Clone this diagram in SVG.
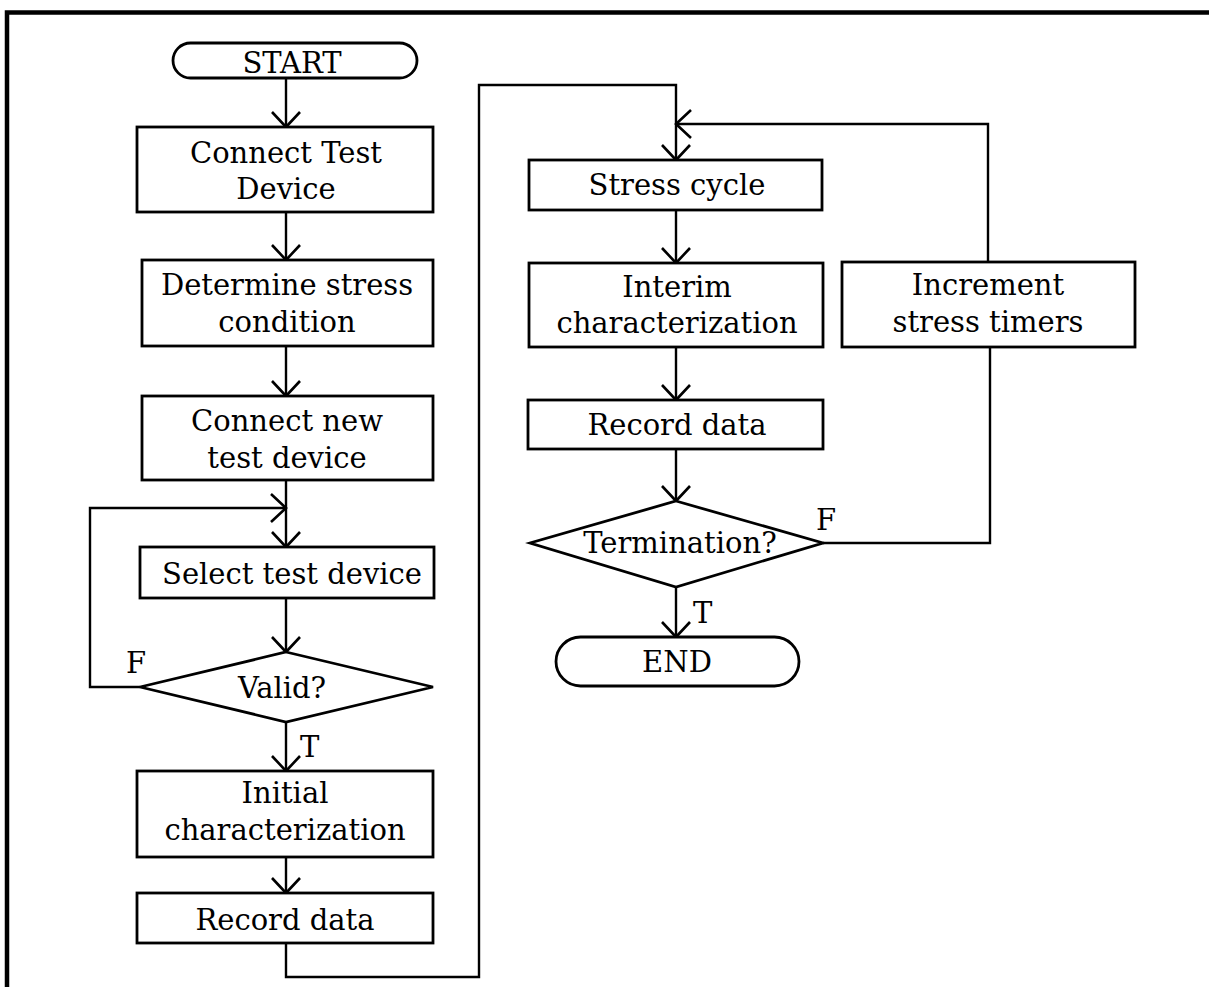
<svg xmlns="http://www.w3.org/2000/svg" width="1209" height="987" viewBox="0 0 1209 987">
  <style>
    .box { fill: #fff; stroke: #000; stroke-width: 2.8; }
    .wire { fill: none; stroke: #000; stroke-width: 2.4; }
    .frame { fill: none; stroke: #000; stroke-width: 4.5; }
    text { font-family: "DejaVu Serif", "Liberation Serif", serif; font-size: 29px; fill: #000; text-anchor: middle; }
    .lbl { text-anchor: start; }
  </style>
  <defs>
    <marker id="arrow" markerUnits="userSpaceOnUse" viewBox="-18 -16 20 32" refX="0" refY="0" markerWidth="20" markerHeight="32" orient="auto" overflow="visible">
      <path d="M-15,-14 L0,0 L-15,14" fill="none" stroke="#000" stroke-width="2.6"/>
    </marker>
  </defs>
  <rect width="1209" height="987" fill="#fff"/>

  <!-- page frame: top and left rules only -->
  <path class="frame" d="M7,987 V12.5 H1209"/>

  <g id="connectors">
    <path class="wire" d="M286,78 V127" marker-end="url(#arrow)"/>
    <path class="wire" d="M286,212 V260" marker-end="url(#arrow)"/>
    <path class="wire" d="M286,346 V396" marker-end="url(#arrow)"/>
    <path class="wire" d="M286,480 V547" marker-end="url(#arrow)"/>
    <path class="wire" d="M140,687 H90 V508 H286" marker-end="url(#arrow)"/>
    <path class="wire" d="M286,598 V652" marker-end="url(#arrow)"/>
    <path class="wire" d="M286,722 V771" marker-end="url(#arrow)"/>
    <path class="wire" d="M286,857 V893" marker-end="url(#arrow)"/>
    <path class="wire" d="M286,943 V977 H479 V85 H676 V160" marker-end="url(#arrow)"/>
    <path class="wire" d="M676,210 V263" marker-end="url(#arrow)"/>
    <path class="wire" d="M676,347 V400" marker-end="url(#arrow)"/>
    <path class="wire" d="M676,449 V501" marker-end="url(#arrow)"/>
    <path class="wire" d="M676,587 V637" marker-end="url(#arrow)"/>
    <path class="wire" d="M823,543 H990 V347"/>
    <path class="wire" d="M988,262 V124 H676" marker-end="url(#arrow)"/>
    <text class="lbl" x="126" y="673">F</text>
    <text class="lbl" x="300" y="757">T</text>
    <text class="lbl" x="816" y="530">F</text>
    <text class="lbl" x="693" y="623">T</text>
  </g>

  <g id="start">
    <rect class="box" x="173" y="43" width="244" height="35" rx="17.5"/>
    <text x="292" y="73">START</text>
  </g>
  <g id="connect-test-device">
    <rect class="box" x="137" y="127" width="296" height="85"/>
    <text x="286" y="163">Connect Test</text>
    <text x="286" y="199">Device</text>
  </g>
  <g id="determine-stress">
    <rect class="box" x="142" y="260" width="291" height="86"/>
    <text x="287" y="295">Determine stress</text>
    <text x="287" y="332">condition</text>
  </g>
  <g id="connect-new-device">
    <rect class="box" x="142" y="396" width="291" height="84"/>
    <text x="287" y="431">Connect new</text>
    <text x="287" y="468">test device</text>
  </g>
  <g id="select-device">
    <rect class="box" x="140" y="547" width="294" height="51"/>
    <text x="292" y="584">Select test device</text>
  </g>
  <g id="valid">
    <polygon class="box" points="286,652 433,687 286,722 140,687"/>
    <text x="282" y="698">Valid?</text>
  </g>
  <g id="initial-char">
    <rect class="box" x="137" y="771" width="296" height="86"/>
    <text x="285" y="803">Initial</text>
    <text x="285" y="840">characterization</text>
  </g>
  <g id="record-data-1">
    <rect class="box" x="137" y="893" width="296" height="50"/>
    <text x="285" y="930">Record data</text>
  </g>

  <g id="stress-cycle">
    <rect class="box" x="529" y="160" width="293" height="50"/>
    <text x="677" y="195">Stress cycle</text>
  </g>
  <g id="interim-char">
    <rect class="box" x="529" y="263" width="294" height="84"/>
    <text x="677" y="297">Interim</text>
    <text x="677" y="333">characterization</text>
  </g>
  <g id="record-data-2">
    <rect class="box" x="528" y="400" width="295" height="49"/>
    <text x="677" y="435">Record data</text>
  </g>
  <g id="termination">
    <polygon class="box" points="676,501 823,543 676,587 530,543"/>
    <text x="680" y="553">Termination?</text>
  </g>
  <g id="end">
    <rect class="box" x="556" y="637" width="243" height="49" rx="24.5"/>
    <text x="677" y="672">END</text>
  </g>
  <g id="increment-timers">
    <rect class="box" x="842" y="262" width="293" height="85"/>
    <text x="988" y="295">Increment</text>
    <text x="988" y="332">stress timers</text>
  </g>
</svg>
